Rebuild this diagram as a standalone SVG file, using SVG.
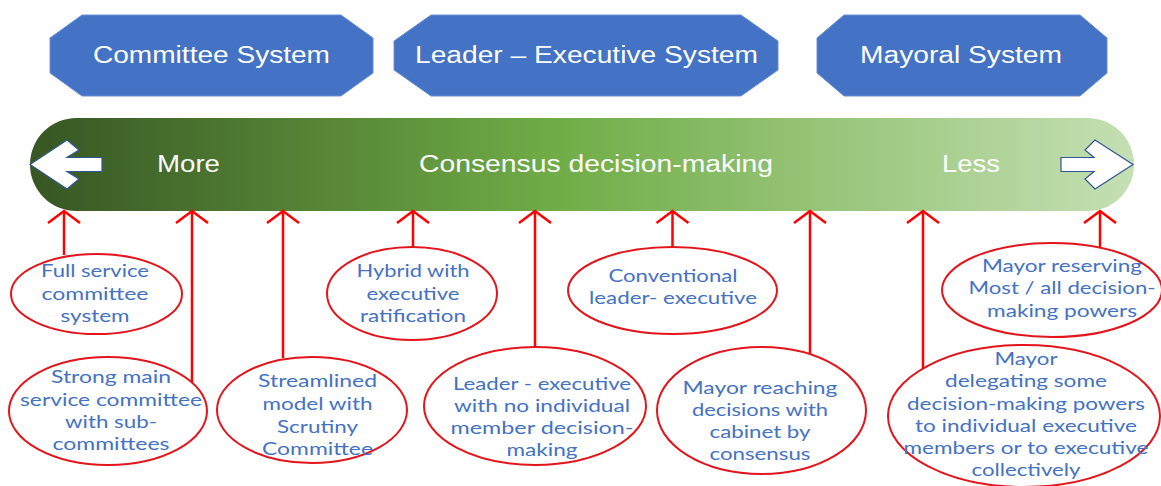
<svg xmlns="http://www.w3.org/2000/svg" width="1161" height="486" viewBox="0 0 1161 486">
  <style>
    .sys { fill: #4472c4; stroke: #6a8fd0; stroke-width: 1; }
    .sys-label { font-family: "Liberation Sans", Arial, sans-serif; font-size: 23px; fill: #ffffff; text-anchor: middle; }
    .bar-label { font-family: "Liberation Sans", Arial, sans-serif; font-size: 23px; fill: #ffffff; text-anchor: middle; }
    .dir { fill: #ffffff; stroke: #2f5597; stroke-width: 1.2; stroke-linejoin: miter; }
    .model { fill: #ffffff; stroke: #e3141c; stroke-width: 2; }
    .model-label { font-family: "Lato", "Open Sans", sans-serif; font-size: 17px; fill: #4472c4; text-anchor: middle; }
    .link { stroke: #ff0000; stroke-width: 2.5; fill: none; marker-end: url(#openHead); }
  </style>
  <defs>
    <linearGradient id="consensusGrad" x1="30" y1="0" x2="1134" y2="0" gradientUnits="userSpaceOnUse">
      <stop offset="0" stop-color="#375623"/>
      <stop offset="0.48" stop-color="#70ad47"/>
      <stop offset="1" stop-color="#c5e0b4"/>
    </linearGradient>
    <marker id="openHead" viewBox="-14 -18 16 36" markerWidth="16" markerHeight="36" refX="0" refY="0" orient="auto" markerUnits="userSpaceOnUse" overflow="visible">
      <path d="M-12,-16 L0,0 L-12,16" fill="none" stroke="#ff0000" stroke-width="2.5"/>
    </marker>
  </defs>

  <rect width="1161" height="486" fill="#ffffff"/>

  <!-- governance systems -->
  <g id="committee-system">
    <polygon class="sys" points="82,15 341,15 373,38 373,73 341,96 82,96 50,73 50,38"/>
    <text class="sys-label" x="211.5" y="63" textLength="237" lengthAdjust="spacingAndGlyphs">Committee System</text>
  </g>
  <g id="leader-executive-system">
    <polygon class="sys" points="431,15 741,15 778,41 778,70 741,96 431,96 394,70 394,41"/>
    <text class="sys-label" x="586.5" y="63" textLength="343" lengthAdjust="spacingAndGlyphs">Leader – Executive System</text>
  </g>
  <g id="mayoral-system">
    <polygon class="sys" points="844,15 1080,15 1107,38 1107,73 1080,96 844,96 817,73 817,38"/>
    <text class="sys-label" x="961" y="63" textLength="202" lengthAdjust="spacingAndGlyphs">Mayoral System</text>
  </g>

  <!-- consensus scale -->
  <g id="consensus-scale">
    <rect x="30" y="118" width="1104" height="93" rx="46.5" ry="46.5" fill="url(#consensusGrad)"/>
    <polygon class="dir" points="30,164.5 67,140 79,150 67,157.5 102,157.5 102,171.5 67,171.5 79,179 67,189"/>
    <polygon class="dir" points="1133,164.5 1095,140 1085,150 1094,157.5 1061,157.5 1061,171.5 1094,171.5 1085,179 1095,189"/>
    <text class="bar-label" x="188.5" y="172" textLength="63" lengthAdjust="spacingAndGlyphs">More</text>
    <text class="bar-label" x="596" y="172" textLength="354" lengthAdjust="spacingAndGlyphs">Consensus decision-making</text>
    <text class="bar-label" x="971" y="172" textLength="58" lengthAdjust="spacingAndGlyphs">Less</text>
  </g>

  <!-- arrows from each model up to the scale -->
  <g id="connectors">
    <line class="link" x1="64" y1="255" x2="64" y2="211"/>
    <line class="link" x1="192" y1="382" x2="192" y2="211"/>
    <line class="link" x1="283" y1="358" x2="283" y2="211"/>
    <line class="link" x1="413" y1="248" x2="413" y2="211"/>
    <line class="link" x1="535" y1="348" x2="535" y2="211"/>
    <line class="link" x1="672.5" y1="248" x2="672.5" y2="211"/>
    <line class="link" x1="810" y1="355" x2="810" y2="211"/>
    <line class="link" x1="923" y1="370" x2="923" y2="211"/>
    <line class="link" x1="1100" y1="248" x2="1100" y2="211"/>
  </g>

  <!-- models -->
  <g id="full-service-committee">
    <ellipse class="model" cx="96.5" cy="294" rx="85.5" ry="40"/>
    <text class="model-label" x="95" y="277" textLength="108" lengthAdjust="spacingAndGlyphs">Full service</text>
    <text class="model-label" x="95" y="299.5" textLength="107" lengthAdjust="spacingAndGlyphs">committee</text>
    <text class="model-label" x="95" y="322" textLength="69" lengthAdjust="spacingAndGlyphs">system</text>
  </g>
  <g id="strong-main-committee">
    <ellipse class="model" cx="108" cy="411" rx="99" ry="54"/>
    <text class="model-label" x="111" y="383" textLength="120" lengthAdjust="spacingAndGlyphs">Strong main</text>
    <text class="model-label" x="111" y="405.5" textLength="182" lengthAdjust="spacingAndGlyphs">service committee</text>
    <text class="model-label" x="111" y="428" textLength="92" lengthAdjust="spacingAndGlyphs">with sub-</text>
    <text class="model-label" x="111" y="450" textLength="117" lengthAdjust="spacingAndGlyphs">committees</text>
  </g>
  <g id="streamlined-model">
    <ellipse class="model" cx="312" cy="410" rx="95" ry="53"/>
    <text class="model-label" x="317.5" y="387" textLength="119" lengthAdjust="spacingAndGlyphs">Streamlined</text>
    <text class="model-label" x="317.5" y="410" textLength="110" lengthAdjust="spacingAndGlyphs">model with</text>
    <text class="model-label" x="317.5" y="432.5" textLength="81" lengthAdjust="spacingAndGlyphs">Scrutiny</text>
    <text class="model-label" x="317.5" y="454.5" textLength="111" lengthAdjust="spacingAndGlyphs">Committee</text>
  </g>
  <g id="hybrid-model">
    <ellipse class="model" cx="412" cy="293.5" rx="85" ry="46.5"/>
    <text class="model-label" x="413" y="277" textLength="113" lengthAdjust="spacingAndGlyphs">Hybrid with</text>
    <text class="model-label" x="413" y="299.5" textLength="93" lengthAdjust="spacingAndGlyphs">executive</text>
    <text class="model-label" x="413" y="322" textLength="106" lengthAdjust="spacingAndGlyphs">ratification</text>
  </g>
  <g id="conventional-leader-executive">
    <ellipse class="model" cx="672.5" cy="290.5" rx="104.5" ry="43.5"/>
    <text class="model-label" x="673" y="282" textLength="129" lengthAdjust="spacingAndGlyphs">Conventional</text>
    <text class="model-label" x="673" y="304" textLength="168" lengthAdjust="spacingAndGlyphs">leader- executive</text>
  </g>
  <g id="leader-executive-no-individual">
    <ellipse class="model" cx="535" cy="406" rx="111" ry="59"/>
    <text class="model-label" x="542" y="390" textLength="178" lengthAdjust="spacingAndGlyphs">Leader - executive</text>
    <text class="model-label" x="542" y="412" textLength="176" lengthAdjust="spacingAndGlyphs">with no individual</text>
    <text class="model-label" x="542" y="434" textLength="183" lengthAdjust="spacingAndGlyphs">member decision-</text>
    <text class="model-label" x="542" y="456" textLength="71" lengthAdjust="spacingAndGlyphs">making</text>
  </g>
  <g id="mayor-cabinet-consensus">
    <ellipse class="model" cx="761.5" cy="410.5" rx="104.5" ry="63.5"/>
    <text class="model-label" x="760" y="394" textLength="155" lengthAdjust="spacingAndGlyphs">Mayor reaching</text>
    <text class="model-label" x="760" y="416" textLength="136" lengthAdjust="spacingAndGlyphs">decisions with</text>
    <text class="model-label" x="760" y="438" textLength="101" lengthAdjust="spacingAndGlyphs">cabinet by</text>
    <text class="model-label" x="760" y="460" textLength="101" lengthAdjust="spacingAndGlyphs">consensus</text>
  </g>
  <g id="mayor-reserving-powers">
    <ellipse class="model" cx="1052" cy="290" rx="110" ry="47"/>
    <text class="model-label" x="1062" y="271.5" textLength="160" lengthAdjust="spacingAndGlyphs">Mayor reserving</text>
    <text class="model-label" x="1062" y="294" textLength="187" lengthAdjust="spacingAndGlyphs">Most / all decision-</text>
    <text class="model-label" x="1062" y="316.5" textLength="150" lengthAdjust="spacingAndGlyphs">making powers</text>
  </g>
  <g id="mayor-delegating-powers">
    <ellipse class="model" cx="1024" cy="416" rx="136" ry="71"/>
    <text class="model-label" x="1026" y="365" textLength="63" lengthAdjust="spacingAndGlyphs">Mayor</text>
    <text class="model-label" x="1026" y="387" textLength="162" lengthAdjust="spacingAndGlyphs">delegating some</text>
    <text class="model-label" x="1026" y="410" textLength="238" lengthAdjust="spacingAndGlyphs">decision-making powers</text>
    <text class="model-label" x="1026" y="432" textLength="222" lengthAdjust="spacingAndGlyphs">to individual executive</text>
    <text class="model-label" x="1026" y="454" textLength="245" lengthAdjust="spacingAndGlyphs">members or to executive</text>
    <text class="model-label" x="1026" y="476" textLength="109" lengthAdjust="spacingAndGlyphs">collectively</text>
  </g>
</svg>
